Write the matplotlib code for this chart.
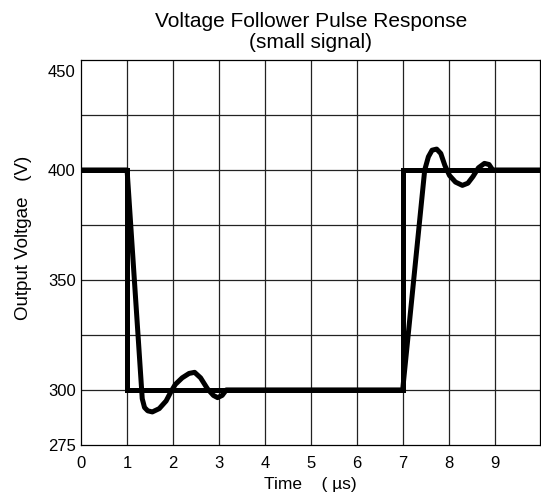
import numpy as np
import matplotlib
matplotlib.use("Agg")
import matplotlib.pyplot as plt
import matplotlib.transforms as mtransforms

plt.rcParams['font.family'] = ['Liberation Sans', 'DejaVu Sans']

# ideal input pulse
step_t = [0, 1, 1, 7, 7, 10]
step_v = [400, 400, 300, 300, 400, 400]

# amplifier response
resp_t = [0, 1.0, 1.33, 1.38, 1.45, 1.55, 1.7, 1.85, 1.95, 2.05, 2.2, 2.35, 2.47,
          2.6, 2.75, 2.88, 2.97, 3.07, 3.16, 7.0, 7.48, 7.56, 7.64, 7.74, 7.83,
          7.92, 8.02, 8.15, 8.3, 8.42, 8.53, 8.65, 8.78, 8.88, 8.96, 10]
resp_v = [400, 400, 296, 292, 290.5, 290, 291.5, 295, 299, 302.5, 305.5, 307.5, 308,
          305.5, 300.5, 297.5, 296.5, 297.5, 300, 300, 400, 406, 409, 409.5, 407.5,
          402, 397.5, 394.5, 393, 394, 397, 401, 403, 402.5, 400, 400]

xticks = [0, 1, 2, 3, 4, 5, 6, 7, 8, 9]
yticks = [275, 300, 350, 400, 450]
ygrid = [300, 325, 350, 375, 400, 425]

fig = plt.figure(figsize=(5.41, 4.96), dpi=100)
ax = fig.add_axes([0.150, 0.103, 0.849, 0.776])

for x in range(1, 10):
    ax.axvline(x, color='#222222', lw=0.9, zorder=1)
for y in ygrid:
    ax.axhline(y, color='#222222', lw=0.9, zorder=1)

ax.plot(step_t, step_v, color='black', lw=3.6, solid_joinstyle='miter', zorder=3)
ax.plot(resp_t, resp_v, color='black', lw=3.6, solid_joinstyle='round',
        solid_capstyle='round', zorder=3)

ax.set_xlim(0, 10)
ax.set_ylim(275, 450)
ax.set_xticks(xticks)
ax.set_yticks(yticks)
ax.tick_params(length=0, labelsize=12)
ax.tick_params(axis='x', pad=8)
ax.tick_params(axis='y', pad=4)

# the top label sits a little under the frame in the original
lab = ax.get_yticklabels()[-1]
lab.set_transform(lab.get_transform() + mtransforms.ScaledTranslation(0, -11 / 100, fig.dpi_scale_trans))

for s in ax.spines.values():
    s.set_linewidth(0.9)
    s.set_color('black')

ax.set_title('Voltage Follower Pulse Response\n(small signal)', fontsize=15, linespacing=1.1, pad=9)
ax.set_xlabel('Time    ( \u00b5s)', fontsize=12.5, labelpad=4)
ax.set_ylabel('Output Voltgae   (V)', fontsize=13.5)
ax.yaxis.set_label_coords(-0.108, 0.539)

fig.savefig('out.png', dpi=100)
